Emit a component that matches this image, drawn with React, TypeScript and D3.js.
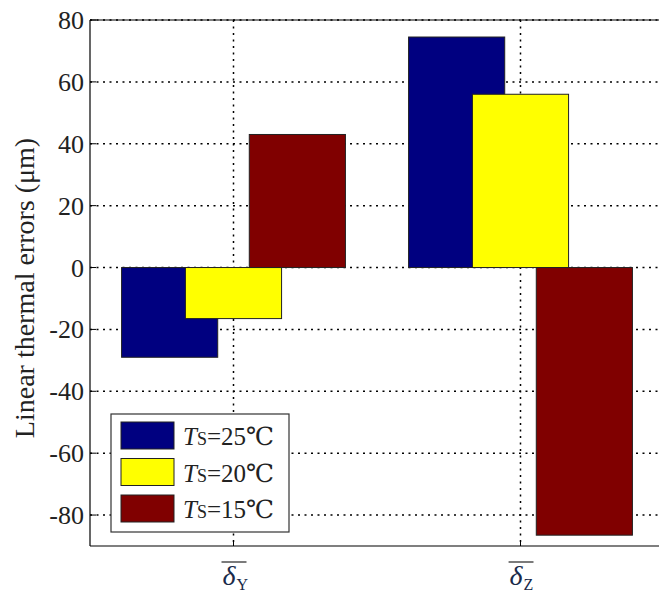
import React from "react";
import * as d3 from "d3";

const categories = ["Y", "Z"];
const seriesNames = ["25", "20", "15"];
const seriesColors = ["#000080", "#FFFF00", "#800000"];
const valuesY = [-29, -16.5, 43];
const valuesZ = [74.5, 56, -86.5];
const yTicks = [-80, -60, -40, -20, 0, 20, 40, 60, 80];

const W = 659, H = 596;
const L = 90, R = 664, T = 20, B = 546;

export default function App() {
  const x = d3.scaleLinear().domain([0.5, 2.5]).range([L, R]);
  const y = d3.scaleLinear().domain([-90, 80]).range([B, T]);
  const values = [valuesY, valuesZ];
  const off = 0.2225, bw = 0.335;
  const fs = { fontFamily: "Liberation Serif, Tinos, DejaVu Serif, serif" };
  const dots = "2,4.5";
  return (
    <svg width={W} height={H} style={{ position: "absolute", left: 0, top: 0, background: "#fff" }}>
      {yTicks.map(t => (
        <line key={"gy" + t} x1={L} x2={W} y1={y(t)} y2={y(t)} stroke="#000" strokeWidth={1.5} strokeDasharray={dots} />
      ))}
      {categories.map((c, i) => (
        <line key={"gx" + c} x1={x(i + 1)} x2={x(i + 1)} y1={T} y2={B} stroke="#000" strokeWidth={1.5} strokeDasharray={dots} />
      ))}
      {categories.map((c, ci) =>
        seriesNames.map((s, si) => {
          const v = values[ci][si];
          const cx = ci + 1 + (si - 1) * off;
          const x0 = x(cx - bw / 2), x1 = x(cx + bw / 2);
          return (
            <rect key={c + s} x={x0} width={x1 - x0} y={y(Math.max(0, v))} height={Math.abs(y(v) - y(0))}
              fill={seriesColors[si]} stroke="#222" strokeWidth={1} />
          );
        })
      )}
      <line x1={L} x2={W} y1={T} y2={T} stroke="#000" strokeWidth={1.2} />
      <line x1={L} x2={W} y1={B} y2={B} stroke="#000" strokeWidth={1.2} />
      <line x1={L} x2={L} y1={T} y2={B} stroke="#000" strokeWidth={1.2} />
      {yTicks.map(t => (
        <g key={"ty" + t}>
          <line x1={L} x2={L + 6} y1={y(t)} y2={y(t)} stroke="#000" />
          <text x={L - 6} y={y(t) + 9} textAnchor="end" style={fs} fontSize={26} fill="#222">{t}</text>
        </g>
      ))}
      {categories.map((c, i) => (
        <g key={"tx" + c}>
          <line x1={x(i + 1)} x2={x(i + 1)} y1={B} y2={B - 6} stroke="#000" />
          <line x1={x(i + 1) - 12} x2={x(i + 1) + 13} y1={562} y2={562} stroke="#222" strokeWidth={1.2} />
          <text x={x(i + 1) - 11} y={585} style={fs} fontSize={28} fontStyle="italic" fill="#1a2a4a">δ</text>
          <text x={x(i + 1) + 3} y={590} style={fs} fontSize={16} fill="#1a2a4a">{c}</text>
        </g>
      ))}
      <text transform={`translate(34,288) rotate(-90)`} textAnchor="middle" style={fs} fontSize={28} fill="#222">
        Linear thermal errors (μm)
      </text>
      <rect x={111} y={414} width={178} height={118} fill="#fff" stroke="#333" strokeWidth={1.2} />
      {seriesNames.map((s, i) => {
        const yy = 422 + i * 36.5;
        return (
          <g key={"lg" + s}>
            <rect x={121} y={yy} width={53} height={27} fill={seriesColors[i]} stroke="#222" strokeWidth={1} />
            <text x={183} y={yy + 23} style={fs} fontSize={25} fill="#222">
              <tspan fontStyle="italic">T</tspan>
              <tspan fontSize={18}>S</tspan>
              <tspan>={s}℃</tspan>
            </text>
          </g>
        );
      })}
    </svg>
  );
}
